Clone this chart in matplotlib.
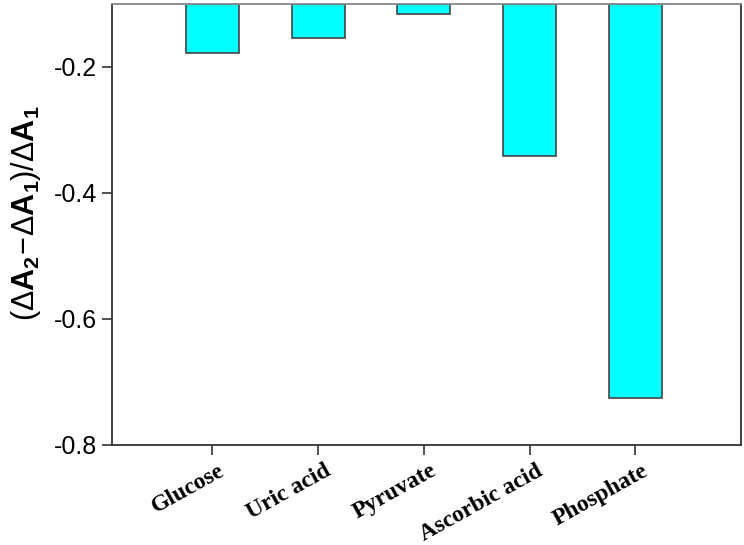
import matplotlib.pyplot as plt
from matplotlib.transforms import ScaledTranslation

# data
categories = ['Glucose', 'Uric acid', 'Pyruvate', 'Ascorbic acid', 'Phosphate']
values = [-0.178, -0.154, -0.116, -0.342, -0.725]
baseline = -0.1

plt.rcParams['mathtext.fontset'] = 'custom'
plt.rcParams['mathtext.rm'] = 'Liberation Sans'
plt.rcParams['mathtext.bf'] = 'Liberation Sans:bold'

fig = plt.figure(figsize=(7.44, 5.45), dpi=100)
ax = fig.add_axes([112 / 744, 1 - 445 / 545, (741 - 112) / 744, (445 - 4) / 545])

x = list(range(1, len(categories) + 1))
heights = [v - baseline for v in values]
ax.bar(x, heights, bottom=baseline, width=0.5, color='#00FFFF',
       edgecolor='#444444', linewidth=1.2)

ax.set_xlim(0.05, 6.0)
ax.set_ylim(-0.8, -0.1)
ax.set_yticks([-0.8, -0.6, -0.4, -0.2])
ax.set_yticklabels(['-0.8', '-0.6', '-0.4', '-0.2'], fontsize=18, family='Liberation Sans')
ax.set_xticks(x)
ax.set_xticklabels(categories, rotation=29, ha='right', rotation_mode='anchor',
                   family='Liberation Serif', fontweight='bold', fontsize=17)
ax.tick_params(direction='out', length=7, width=1.2, color='#333333')
ax.tick_params(axis='x', pad=4)

# nudge the rotated labels a little to the right, like the reference
shift = ScaledTranslation(6 / 100, 0, fig.dpi_scale_trans)
for lbl in ax.get_xticklabels():
    lbl.set_transform(lbl.get_transform() + shift)

for s in ax.spines.values():
    s.set_color('#333333')
    s.set_linewidth(1.3)
ax.spines['top'].set_color('#888888')

ax.set_ylabel(r'$(\Delta\mathbf{A}_{\mathbf{2}}\!-\!\Delta\mathbf{A}_{\mathbf{1}})/\Delta\mathbf{A}_{\mathbf{1}}$',
              fontsize=22, labelpad=8)
ax.yaxis.label.set_y(0.526)

fig.savefig('out.png', dpi=100)
